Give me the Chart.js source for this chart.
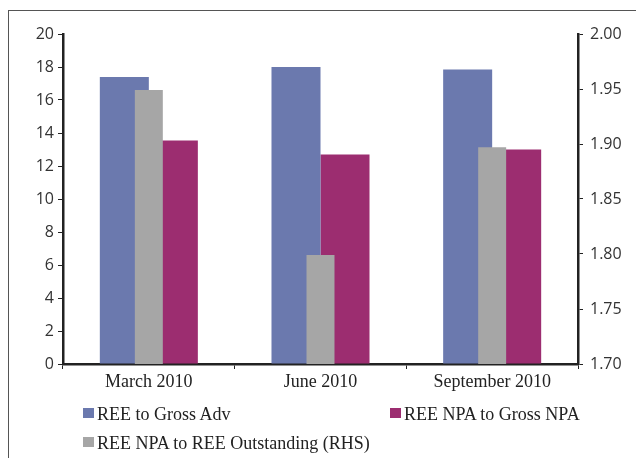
<!DOCTYPE html>
<html>
<head>
<meta charset="utf-8">
<script src="https://cdn.jsdelivr.net/npm/chart.js@4.4.0/dist/chart.umd.min.js"></script>
<style>
  body { margin: 0; width: 636px; height: 458px; overflow: hidden; background: #fff; position: relative; }
  #frame { position: absolute; left: 8px; top: 10px; width: 700px; height: 600px; border: 1.5px solid #555; }
  #wrap { position: absolute; left: 0; top: 0; width: 636px; height: 458px; }
  .box { position: absolute; width: 11px; height: 10px; }
  .txt { position: absolute; font-family: "Liberation Serif", serif; font-size: 18px; line-height: 18px; color: #222; white-space: nowrap; }
</style>
</head>
<body>
<div id="frame"></div>
<div id="wrap"><canvas id="chart" width="636" height="458"></canvas></div>
<div id="legend"></div>
<script>
// data
const categories = ['March 2010', 'June 2010', 'September 2010'];
const reeToGrossAdv = [17.4, 18.0, 17.85];          // left axis
const reeNpaToOutstanding = [1.949, 1.799, 1.897];   // right axis (RHS)
const reeNpaToGrossNpa = [13.55, 12.7, 13.0];        // left axis

const names = ['REE to Gross Adv', 'REE NPA to REE Outstanding (RHS)', 'REE NPA to Gross NPA'];
const colors = ['#6b79ae', '#a6a6a6', '#9c2d70'];

const inkColor = '#222';

var config = {
  type: 'bar',
  data: {
    labels: categories,
    datasets: [{
      label: names[0],
      data: reeToGrossAdv,
      backgroundColor: colors[0],
      yAxisID: 'y',
      categoryPercentage: 0.571,
      barPercentage: 1.0
    }, {
      // sits in the middle of the category, drawn over the other two
      label: names[1],
      data: reeNpaToOutstanding,
      backgroundColor: colors[1],
      yAxisID: 'y2',
      grouped: false,
      categoryPercentage: 0.163,
      barPercentage: 1.0,
      order: -1
    }, {
      label: names[2],
      data: reeNpaToGrossNpa,
      backgroundColor: colors[2],
      yAxisID: 'y',
      categoryPercentage: 0.571,
      barPercentage: 1.0
    }]
  },
  options: {
    responsive: false,
    animation: false,
    layout: { padding: { top: 34, bottom: 64, left: 0, right: 0 } },
    plugins: { legend: { display: false }, tooltip: { enabled: false } },
    scales: {
      x: {
        offset: true,
        grid: { display: true, drawOnChartArea: false, drawTicks: true, tickLength: 5, color: inkColor, offset: true },
        border: { display: true, color: inkColor, width: 2.5 },
        ticks: { color: inkColor, padding: 2, font: { family: 'Liberation Serif', size: 18 } },
        afterFit: s => { s.height = 30; }
      },
      y: {
        position: 'left',
        min: 0, max: 20,
        ticks: { stepSize: 2, color: '#333', padding: 4, font: { family: 'Open Sans', size: 16 } },
        grid: { drawOnChartArea: false, drawTicks: true, tickLength: 5, color: inkColor },
        border: { display: true, color: inkColor, width: 2.5 },
        afterFit: s => { s.width = 63; }
      },
      y2: {
        position: 'right',
        min: 1.70, max: 2.00,
        ticks: { stepSize: 0.05, color: '#333', padding: 7, font: { family: 'Open Sans', size: 16 },
                 callback: v => v.toFixed(2) },
        grid: { drawOnChartArea: false, drawTicks: true, tickLength: 5, color: inkColor },
        border: { display: true, color: inkColor, width: 2.5 },
        afterFit: s => { s.width = 58; }
      }
    }
  }
};

var chart = new Chart(document.getElementById('chart'), config);

// legend laid out like the original (two columns)
const legendSlots = [
  { i: 0, left: 83, top: 408 },
  { i: 2, left: 390, top: 408 },
  { i: 1, left: 83, top: 437 }
];
var legend = document.getElementById('legend');
legendSlots.forEach(function (slot) {
  var b = document.createElement('div');
  b.className = 'box';
  b.style.left = slot.left + 'px';
  b.style.top = slot.top + 'px';
  b.style.background = colors[slot.i];
  legend.appendChild(b);
  var t = document.createElement('div');
  t.className = 'txt';
  t.style.left = (slot.left + 14) + 'px';
  t.style.top = (slot.top - 3.5) + 'px';
  t.textContent = names[slot.i];
  legend.appendChild(t);
});
</script>
</body>
</html>
